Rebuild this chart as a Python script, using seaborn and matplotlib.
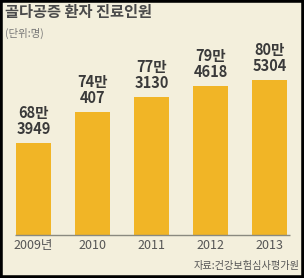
import matplotlib
matplotlib.use("Agg")
import matplotlib.pyplot as plt
import seaborn as sns
import pandas as pd
from matplotlib.patches import Rectangle

years = ["2009년", "2010", "2011", "2012", "2013"]
patients = [683949, 744407, 773130, 794618, 805304]
labels = ["68만\n3949", "74만\n407", "77만\n3130", "79만\n4618", "80만\n5304"]

sns.set_theme(style="white")
plt.rcParams['font.family'] = ['Noto Sans CJK KR', 'DejaVu Sans']

bg = "#f3efdc"
bar_color = "#f1b526"

df = pd.DataFrame({"year": years, "patients": patients})

fig = plt.figure(figsize=(3.04, 2.78), dpi=100)
fig.patch.set_facecolor(bg)

# axes: pixel 8..296 wide, 60..235 tall (from top)
W, H = 304, 278
ax = fig.add_axes([8 / W, (H - 235) / H, 288 / W, 175 / H])
ax.set_facecolor(bg)

sns.barplot(data=df, x="year", y="patients", color=bar_color, width=0.593,
            saturation=1, linewidth=0, edgecolor="none", ax=ax)

ax.set_xlim(-0.432, 4.449)
ax.set_ylim(506849, 843724)

for i, (v, lab) in enumerate(zip(patients, labels)):
    ax.annotate(lab, (i, v), xytext=(0, 4), textcoords="offset points",
                ha="center", va="bottom", fontsize=10.5, fontweight="semibold",
                color="#3a3a3a", linespacing=1.0)

ax.hlines(506849, -0.31, 4.35, color="#8a8a80", lw=1.0, clip_on=False)

for s in ax.spines.values():
    s.set_visible(False)
ax.set_yticks([])
ax.set_xlabel("")
ax.set_ylabel("")
ax.tick_params(axis="x", length=0, pad=3, labelsize=9, labelcolor="#555555")

fig.text(5 / W, 1 - 12 / H, "골다공증 환자 진료인원", ha="left", va="center",
         fontsize=11, fontweight="bold", color="#4a4a4a")
fig.text(5 / W, 1 - 33 / H, "(단위:명)", ha="left", va="center",
         fontsize=7.5, color="#777777")
fig.text(300 / W, 1 - 266 / H, "자료:건강보험심사평가원", ha="right", va="center",
         fontsize=7.3, color="#555555")

fig.patches.append(Rectangle((0, 0), 1, 1, transform=fig.transFigure,
                             fill=False, edgecolor="black", lw=4))

fig.savefig("out.png", dpi=100, facecolor=bg)
